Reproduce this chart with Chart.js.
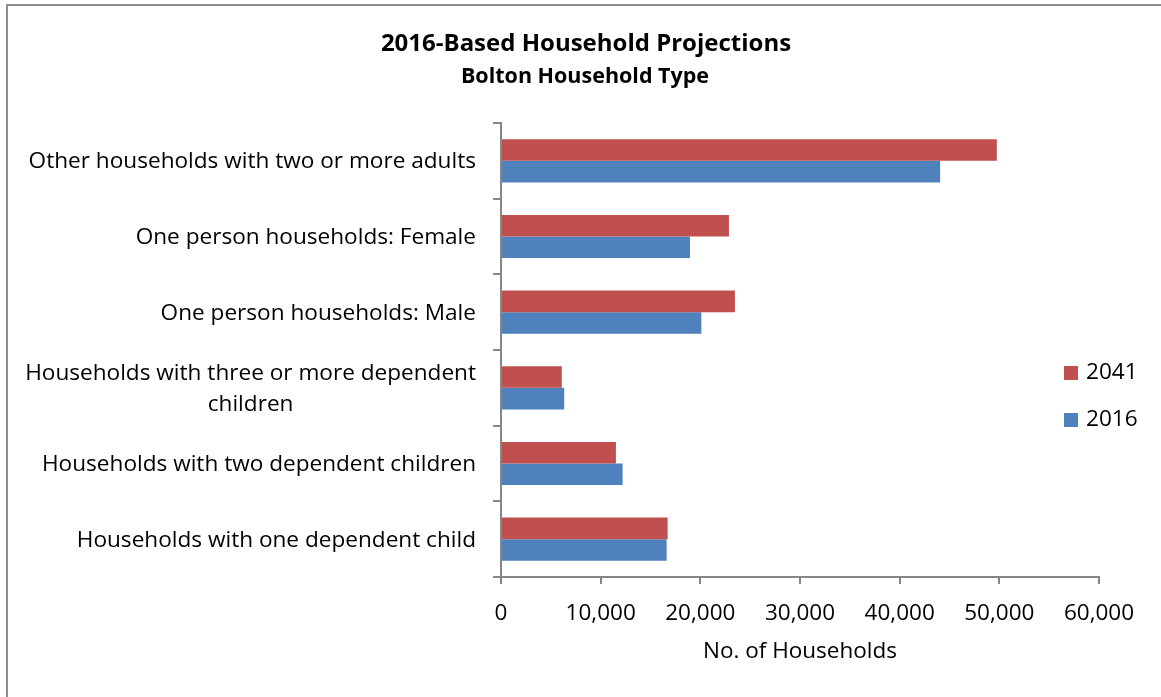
<!DOCTYPE html>
<html>
<head>
<meta charset="utf-8">
<script src="https://cdn.jsdelivr.net/npm/chart.js@4.4.0/dist/chart.umd.min.js"></script>
<style>
  html, body { margin: 0; padding: 0; background: #fff; }
  #wrap { width: 1161px; height: 697px; position: relative; }
</style>
</head>
<body>
<div id="wrap"><canvas id="chart" width="1161" height="697"></canvas></div>
<script>
const categories = [
  "Other households with two or more adults",
  "One person households: Female",
  "One person households: Male",
  ["Households with three or more dependent", "children"],
  "Households with two dependent children",
  "Households with one dependent child"
];
const seriesNames = ["2041", "2016"];
const values2041 = [49750, 22870, 23470, 6100, 11530, 16720];
const values2016 = [44060, 18960, 20100, 6340, 12200, 16620];
const xTickLabels = ["0", "10,000", "20,000", "30,000", "40,000", "50,000", "60,000"];

const titleText = "2016-Based Household Projections";
const subtitleText = "Bolton Household Type";
const xTitle = "No. of Households";

const FONT = "'Open Sans', sans-serif";
const RED = "#C0504D";
const BLUE = "#4F81BD";
const AXIS = "#868686";

// frame, titles, category labels and legend drawn by hand
const decorations = {
  id: "decorations",
  beforeDraw(chart) {
    const ctx = chart.ctx;
    ctx.save();
    ctx.fillStyle = "#fff";
    ctx.fillRect(0, 0, chart.width, chart.height);
    ctx.fillStyle = "#8c8c8c";
    ctx.fillRect(6, 4, 2, chart.height - 4);
    ctx.fillRect(6, 4, chart.width - 6, 2);
    ctx.restore();
  },
  afterDraw(chart) {
    const ctx = chart.ctx;
    const y = chart.scales.y;
    ctx.save();
    ctx.fillStyle = "#000";
    ctx.textBaseline = "middle";

    // titles
    ctx.textAlign = "center";
    ctx.font = "bold 24px " + FONT;
    ctx.fillText(titleText, 586, 44);
    ctx.font = "bold 21.5px " + FONT;
    ctx.fillText(subtitleText, 585, 77);

    // category labels: block right aligned, lines centred inside it
    ctx.font = "22.6px " + FONT;
    const right = 476;
    const lineH = 31;
    categories.forEach((label, i) => {
      const lines = Array.isArray(label) ? label : [label];
      const w = Math.max(...lines.map(l => ctx.measureText(l).width));
      const cx = right - w / 2;
      const cy = y.getPixelForTick(i) + 1;
      lines.forEach((l, j) => {
        ctx.fillText(l, cx, cy + (j - (lines.length - 1) / 2) * lineH);
      });
    });

    // legend
    const colors = [RED, BLUE];
    const ys = [373, 420];
    ctx.textAlign = "left";
    ctx.font = "22.6px " + FONT;
    seriesNames.forEach((name, i) => {
      ctx.fillStyle = colors[i];
      ctx.fillRect(1064, ys[i] - 7, 14, 14);
      ctx.fillStyle = "#000";
      ctx.fillText(name, 1086, ys[i]);
    });
    ctx.restore();
  }
};

new Chart(document.getElementById("chart"), {
  type: "bar",
  data: {
    labels: categories,
    datasets: [
      { label: seriesNames[0], data: values2041, backgroundColor: RED },
      { label: seriesNames[1], data: values2016, backgroundColor: BLUE }
    ]
  },
  options: {
    indexAxis: "y",
    responsive: false,
    animation: false,
    datasets: {
      bar: { categoryPercentage: 0.571, barPercentage: 1.0 }
    },
    layout: { padding: { top: 123, right: 62, left: 0, bottom: 0 } },
    plugins: {
      legend: { display: false },
      title: { display: false },
      tooltip: { enabled: false }
    },
    scales: {
      y: {
        afterFit: (s) => { s.width = 501; },
        ticks: { display: false },
        grid: {
          display: true,
          drawOnChartArea: false,
          drawTicks: true,
          tickLength: 8,
          offset: true,
          color: AXIS,
          lineWidth: 2
        },
        border: { display: true, color: AXIS, width: 2 }
      },
      x: {
        min: 0,
        max: 60000,
        afterFit: (s) => { s.height = 120; },
        ticks: {
          stepSize: 10000,
          color: "#000",
          font: { family: FONT, size: 22.5 },
          padding: 16,
          maxRotation: 0,
          callback: (v, i) => xTickLabels[i]
        },
        grid: {
          display: true,
          drawOnChartArea: false,
          drawTicks: true,
          tickLength: 7,
          color: AXIS,
          lineWidth: 2
        },
        border: { display: true, color: AXIS, width: 2 },
        title: {
          display: true,
          text: xTitle,
          color: "#000",
          font: { family: FONT, size: 22.5 },
          padding: { top: 0, bottom: 32 }
        }
      }
    }
  },
  plugins: [decorations]
});
</script>
</body>
</html>
